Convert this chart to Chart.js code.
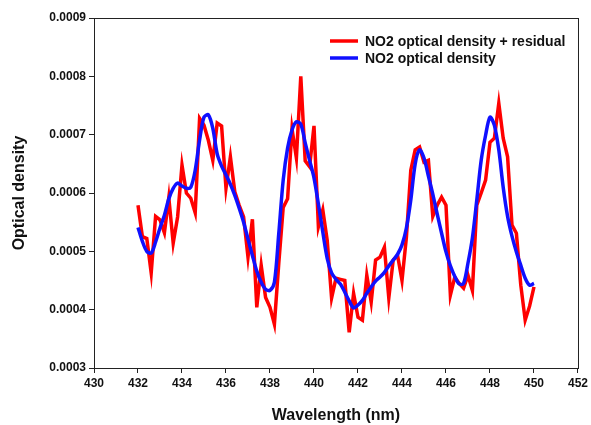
<!DOCTYPE html>
<html lang="en">
<head>
  <meta charset="UTF-8" />
  <title>NO2 optical density</title>
  <script src="https://cdn.jsdelivr.net/npm/chart.js"></script>
  <style>
    html, body { margin: 0; padding: 0; background: #fff; }
    #wrap { width: 591px; height: 425px; position: relative; }
  </style>
</head>
<body>
  <div id="wrap"><canvas id="odChart"></canvas></div>

  <script>
    // wavelength grid, 432 to 450 nm every 0.2 nm
    const wavelengths = [];
    for (let i = 0; i <= 90; i++) wavelengths.push(+(432 + i * 0.2).toFixed(1));

    // values in units of 1e-4
    const withResidual = [
      5.79, 5.25, 5.22, 4.63, 5.60, 5.54, 5.32, 5.92, 5.14, 5.59,
      6.48, 6.00, 5.91, 5.66, 7.28, 7.16, 6.90, 6.56, 7.20, 7.15,
      6.08, 6.62, 6.02, 5.79, 5.59, 4.90, 5.55, 4.04, 4.76, 4.21,
      4.04, 3.75, 4.80, 5.75, 5.90, 7.10, 6.60, 8.00, 6.55, 6.45,
      7.15, 5.42, 5.71, 5.19, 4.20, 4.54, 4.52, 4.50, 3.61, 4.28,
      3.87, 3.82, 4.59, 4.13, 4.85, 4.90, 5.07, 4.20, 4.85, 4.93,
      4.50, 5.24, 6.39, 6.74, 6.79, 6.53, 6.56, 5.60, 5.79, 5.93,
      5.79, 4.25, 4.56, 4.45, 4.37, 4.59, 4.33, 5.79, 6.00, 6.22,
      6.87, 6.94, 7.54, 6.94, 6.62, 5.45, 5.31, 4.42, 3.82, 4.06,
      4.39
    ];
    const fitted = [
      5.41, 5.17, 5.00, 4.97, 5.16, 5.40, 5.62, 5.90, 6.08, 6.17,
      6.12, 6.08, 6.10, 6.39, 6.91, 7.30, 7.34, 7.11, 6.67, 6.46,
      6.31, 6.15, 5.96, 5.74, 5.50, 5.21, 4.93, 4.66, 4.47, 4.35,
      4.33, 4.47, 5.31, 6.22, 6.77, 7.08, 7.22, 7.18, 6.86, 6.56,
      6.26, 5.81, 5.33, 4.88, 4.63, 4.52, 4.44, 4.30, 4.15, 4.03,
      4.08, 4.16, 4.28, 4.39, 4.49, 4.56, 4.64, 4.75, 4.85, 4.95,
      5.11, 5.40, 5.88, 6.50, 6.74, 6.60, 6.29, 5.98, 5.64, 5.31,
      4.99, 4.75, 4.57, 4.44, 4.45, 4.80, 5.23, 5.88, 6.56, 6.99,
      7.30, 7.16, 6.74, 6.10, 5.60, 5.26, 4.99, 4.76, 4.54, 4.42,
      4.45
    ];
    const seriesLabels = ['NO2 optical density + residual', 'NO2 optical density'];

    const toPoints = arr => arr.map((v, i) => ({ x: wavelengths[i], y: v * 1e-4 }));

    const fontFamily = 'Liberation Sans, Arial, sans-serif';
    const boldFont = { family: fontFamily, weight: 'bold', size: 12 };
    const titleFont = { family: fontFamily, weight: 'bold', size: 16 };

    // frame round the plot area + legend inside it
    const framePlugin = {
      id: 'frame',
      afterDraw(chart) {
        const { ctx, chartArea: a } = chart;
        ctx.save();
        ctx.strokeStyle = '#222';
        ctx.lineWidth = 1;
        ctx.strokeRect(a.left + 0.5, a.top + 0.5, a.right - a.left, a.bottom - a.top);

        // legend
        ctx.font = 'bold 14px ' + fontFamily;
        ctx.textBaseline = 'middle';
        const lx = 330, ly = [41, 58];
        chart.data.datasets.forEach(ds => {
          const idx = seriesLabels.indexOf(ds.label);
          ctx.strokeStyle = ds.borderColor;
          ctx.lineWidth = 3.5;
          ctx.beginPath();
          ctx.moveTo(lx, ly[idx]);
          ctx.lineTo(lx + 28, ly[idx]);
          ctx.stroke();
          ctx.fillStyle = '#111';
          ctx.fillText(ds.label, lx + 35, ly[idx] + 1);
        });
        ctx.restore();
      }
    };

    new Chart(document.getElementById('odChart'), {
      type: 'line',
      data: {
        datasets: [
          {
            label: seriesLabels[1],
            data: toPoints(fitted),
            borderColor: '#1010ff',
            borderWidth: 3.5,
            pointRadius: 0,
            tension: 0.3,
            order: 0
          },
          {
            label: seriesLabels[0],
            data: toPoints(withResidual),
            borderColor: '#ff0000',
            borderWidth: 3.5,
            pointRadius: 0,
            tension: 0,
            order: 1
          }
        ]
      },
      options: {
        responsive: true,
        maintainAspectRatio: false,
        animation: false,
        layout: { padding: { top: 18, right: 10, left: 10, bottom: 0 } },
        plugins: {
          legend: { display: false },
          tooltip: { enabled: false }
        },
        scales: {
          x: {
            type: 'linear',
            min: 430,
            max: 452,
            ticks: { stepSize: 2, color: '#111', font: boldFont, padding: 3 },
            grid: { drawOnChartArea: false, color: '#222', tickLength: 5 },
            border: { color: '#222' },
            title: {
              display: true,
              text: 'Wavelength (nm)',
              color: '#111',
              font: titleFont,
              padding: { top: 8, bottom: 0 }
            },
            afterFit: s => { s.height = 425 - 368; }
          },
          y: {
            min: 0.0003,
            max: 0.0009,
            ticks: {
              stepSize: 0.0001,
              color: '#111',
              font: boldFont,
              padding: 3,
              callback: v => v.toFixed(4)
            },
            grid: { drawOnChartArea: false, color: '#222', tickLength: 5 },
            border: { color: '#222' },
            title: {
              display: true,
              text: 'Optical density',
              color: '#111',
              font: titleFont,
              padding: { top: 0, bottom: 6 }
            },
            afterFit: s => { s.width = 84; }
          }
        }
      },
      plugins: [framePlugin]
    });
  </script>
</body>
</html>
